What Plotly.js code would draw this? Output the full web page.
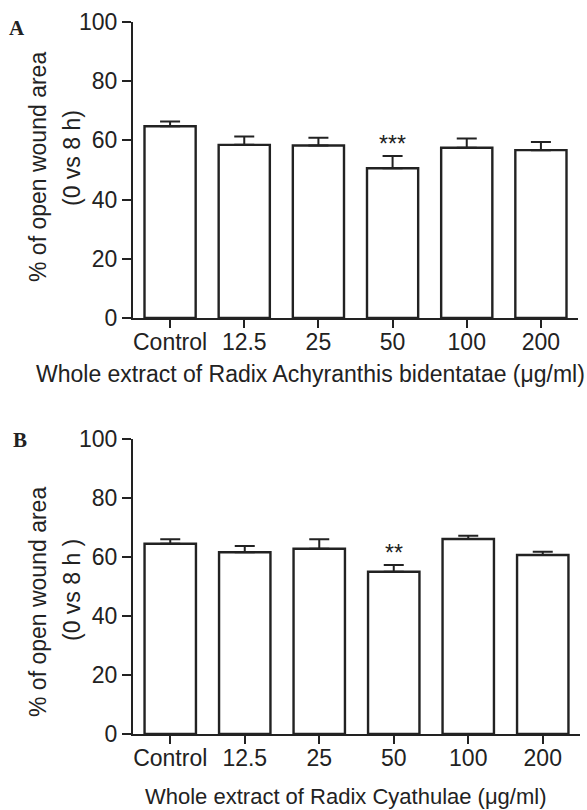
<!DOCTYPE html>
<html>
<head>
<meta charset="utf-8">
<script src="https://cdn.plot.ly/plotly-3.0.1.min.js"></script>
<style>
html,body{margin:0;padding:0;background:#fff;}
#chart{width:587px;height:810px;}
</style>
</head>
<body>
<div id="chart"></div>
<script>
// ---- data ----
const categories = ['Control', '12.5', '25', '50', '100', '200'];
const valuesA = [64.8, 58.5, 58.3, 50.6, 57.5, 56.7];
const errorsA = [1.6, 2.8, 2.6, 4.1, 3.1, 2.8];
const sigA = ['', '', '', '***', '', ''];
const valuesB = [64.5, 61.6, 62.8, 55.0, 66.1, 60.7];
const errorsB = [1.5, 2.1, 3.2, 2.3, 1.1, 1.1];
const sigB = ['', '', '', '**', '', ''];
const yTicks = [0, 20, 40, 60, 80, 100];
const titleA = 'Whole extract of Radix Achyranthis bidentatae (μg/ml)';
const titleB = 'Whole extract of Radix Cyathulae (μg/ml)';
const yTitle1 = '% of open wound area';
const yTitle2A = '(0 vs 8 h)';
const yTitle2B = '(0 vs 8 h )';

const W = 587, H = 810;
const INK = '#222222';
const FONT = '"Liberation Sans", Arial, Helvetica, sans-serif';
const FS = 23;
const px = x => x / W;
const py = y => 1 - y / H;

function barTrace(vals, errs, xa, ya) {
  return {
    type: 'bar', x: categories, y: vals, xaxis: xa, yaxis: ya,
    width: 0.69,
    marker: {color: '#ffffff', line: {color: INK, width: 2.4}},
    error_y: {type: 'data', symmetric: false, array: errs,
              arrayminus: errs.map(() => 0), color: INK, thickness: 2, width: 10},
    hoverinfo: 'skip', showlegend: false
  };
}

function xAxis(domain, anchor) {
  return {
    domain: domain, anchor: anchor, type: 'category', range: [-0.5, 5.5],
    showline: true, linecolor: INK, linewidth: 2,
    ticks: 'outside', ticklen: 8, tickwidth: 2, tickcolor: INK,
    ticklabelstandoff: -6,
    showgrid: false, zeroline: false,
    tickfont: {family: FONT, size: FS, color: INK}, fixedrange: true
  };
}
function yAxis(domain, anchor) {
  return {
    domain: domain, anchor: anchor, range: [0, 100],
    tickvals: yTicks, ticktext: yTicks.map(String),
    showline: true, linecolor: INK, linewidth: 2,
    ticks: 'outside', ticklen: 9, tickwidth: 2, tickcolor: INK,
    showgrid: false, zeroline: false,
    tickfont: {family: FONT, size: FS, color: INK}, fixedrange: true
  };
}

const annotations = [];
function txt(text, x, y, opts) {
  annotations.push(Object.assign({
    text: text, xref: 'paper', yref: 'paper', x: px(x), y: py(y),
    xanchor: 'center', yanchor: 'middle', showarrow: false,
    font: {family: FONT, size: FS, color: INK}
  }, opts || {}));
}
// panel letters
const SERIF = '"Liberation Serif", "Times New Roman", serif';
txt('<b>A</b>', 17, 28, {font: {family: SERIF, size: 21, color: INK}});
txt('<b>B</b>', 20, 440, {font: {family: SERIF, size: 21, color: INK}});
// y titles
txt(yTitle1, 38, 167, {textangle: -90});
txt(yTitle2A, 72, 158, {textangle: -90});
txt(yTitle1, 38, 602, {textangle: -90});
txt(yTitle2B, 72, 590, {textangle: -90});
// x titles
txt(titleA, 34, 374, {xanchor: 'left'});
txt(titleB, 143, 796, {xanchor: 'left', font: {family: FONT, size: 22, color: INK}});
// significance marks
function sig(marks, vals, errs, xr, yr) {
  marks.forEach((m, i) => {
    if (!m) return;
    annotations.push({
      text: m, xref: xr, yref: yr, x: i, y: vals[i] + errs[i],
      xanchor: 'center', yanchor: 'bottom', yshift: -3, showarrow: false,
      font: {family: FONT, size: 23, color: INK}
    });
  });
}
sig(sigA, valuesA, errorsA, 'x', 'y');
sig(sigB, valuesB, errorsB, 'x2', 'y2');

const layout = {
  width: W, height: H,
  margin: {l: 0, r: 0, t: 0, b: 0},
  paper_bgcolor: '#ffffff', plot_bgcolor: '#ffffff',
  xaxis: xAxis([px(133), px(578)], 'y'),
  yaxis: yAxis([py(318), py(22)], 'x'),
  xaxis2: xAxis([px(133), px(580)], 'y2'),
  yaxis2: yAxis([py(734), py(439)], 'x2'),
  annotations: annotations,
  font: {family: FONT, color: INK}
};

Plotly.newPlot('chart', [
  barTrace(valuesA, errorsA, 'x', 'y'),
  barTrace(valuesB, errorsB, 'x2', 'y2')
], layout, {staticPlot: true, displayModeBar: false});
</script>
</body>
</html>
